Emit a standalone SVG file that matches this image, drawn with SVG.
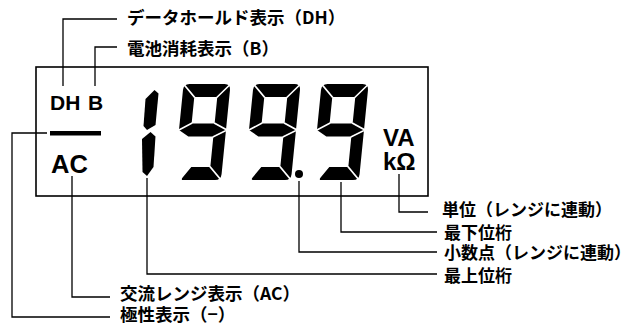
<svg xmlns="http://www.w3.org/2000/svg" width="633" height="327" viewBox="0 0 633 327">
<style>
.ln{fill:none;stroke:#000;stroke-width:1.3}
.box{fill:none;stroke:#000;stroke-width:1.6}
.lbl{font-family:"Noto Sans CJK JP","Noto Sans",sans-serif;font-size:17.5px;font-weight:700;fill:#000}
.rl{font-size:17px}
.seg{font-family:"Liberation Sans",Arial,sans-serif;font-weight:700;fill:#000}
.sep{stroke:#fff;stroke-width:1.7;fill:none}
</style>
<defs>
<g id="nine">
<path fill-rule="evenodd" fill="#000" d="M6,-96 H41 Q47,-96 47,-90 V-6 Q47,0 41,0 H9 Q7,0 8,-2 L16,-13 H35 V-43.5 H10 L0,-50 V-90 Q0,-96 6,-96 Z M12,-83 H35 V-56.5 H12 Z"/>
<path class="sep" d="M-1,-97 L12.5,-82.5 M48,-97 L34.5,-82.5 M-1,-49.5 L12.5,-57 M34.5,-57 L48,-50 M34.5,-43 L48,-50 M34.5,-13.5 L48,1"/>
</g>
</defs>
<rect class="box" x="36" y="67" width="392" height="129"/>
<g id="connectors">
<path class="ln" d="M63,86 V19 H117"/>
<path class="ln" d="M95,86 V47 H117"/>
<path class="ln" d="M47,133 H12 V317 H110"/>
<path class="ln" d="M72,176 V297 H110"/>
<path class="ln" d="M147,178 V274 H437"/>
<path class="ln" d="M299,181 V252 H437"/>
<path class="ln" d="M341,182 V232 H437"/>
<path class="ln" d="M399,174 V212 H428"/>
</g>
<g id="dh"><text class="seg" x="50" y="110" font-size="21">DH</text></g>
<g id="b"><text class="seg" x="88" y="110" font-size="21">B</text></g>
<g id="minus"><rect x="50" y="131" width="51" height="4.5" fill="#000"/></g>
<g id="ac"><text class="seg" x="51" y="173" font-size="25.5">AC</text></g>
<g id="digit1">
<polygon fill="#000" points="154.5,90 158.5,93.5 155.5,125 147,130 143.5,126 145.5,99"/>
<polygon fill="#000" points="150.5,132 155.5,136.5 153.5,167 147,176 142.5,172 142,139"/>
</g>
<g id="digit2"><use href="#nine" transform="translate(174,180) skewX(-5.7)"/></g>
<g id="digit3"><use href="#nine" transform="translate(244,180) skewX(-5.7)"/></g>
<g id="dp"><circle cx="299" cy="174" r="4" fill="#000"/></g>
<g id="digit4"><use href="#nine" transform="translate(312,180) skewX(-5.7)"/></g>
<g id="unit"><text class="seg" x="383" y="146" font-size="24">VA</text><text class="seg" x="383" y="170" font-size="24">kΩ</text></g>
<g id="l-dh"><text class="lbl" x="127" y="24">データホールド表示（DH）</text></g>
<g id="l-b"><text class="lbl" x="127" y="55">電池消耗表示（B）</text></g>
<g id="l-unit"><text class="lbl rl" x="442" y="216">単位（レンジに連動）</text></g>
<g id="l-low"><text class="lbl rl" x="444" y="239">最下位桁</text></g>
<g id="l-dp"><text class="lbl rl" x="444" y="259">小数点（レンジに連動）</text></g>
<g id="l-top"><text class="lbl rl" x="444" y="282">最上位桁</text></g>
<g id="l-ac"><text class="lbl" x="120" y="300">交流レンジ表示（AC）</text></g>
<g id="l-pol"><text class="lbl" x="120" y="321">極性表示（−）</text></g>
</svg>
